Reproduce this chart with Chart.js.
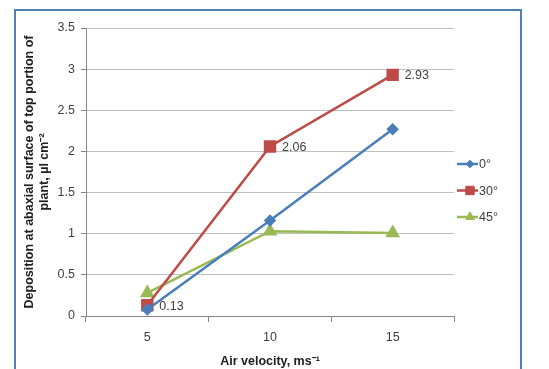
<!DOCTYPE html>
<html>
<head>
<meta charset="utf-8">
<script src="https://cdn.jsdelivr.net/npm/chart.js@4"></script>
<style>
  html, body { margin: 0; padding: 0; background: #fff; overflow: hidden; }
  #frame { position: absolute; left: 14px; top: 9px; width: 504px; height: 400px; border: 2px solid #4f81bd; }
  #wrap { position: absolute; left: 0; top: 0; width: 549px; height: 373px; }
</style>
</head>
<body>
<div id="frame"></div>
<div id="wrap"><canvas id="myChart"></canvas></div>
<script>
// categories and series values
var velocities = ["5", "10", "15"];
var angle0 = [0.08, 1.16, 2.27];
var angle30 = [0.13, 2.06, 2.93];
var angle45 = [0.28, 1.03, 1.01];
var seriesNames = ["0°", "30°", "45°"];
var labelled30 = ["0.13", "2.06", "2.93"];

var font = "'Liberation Sans', Arial, sans-serif";

// value labels next to the 30° points
var valueLabels = {
  id: 'valueLabels',
  afterDatasetsDraw: function(chart) {
    var ctx = chart.ctx;
    var meta = chart.getDatasetMeta(1);
    ctx.save();
    ctx.font = "12.5px " + font;
    ctx.fillStyle = "#404040";
    ctx.textBaseline = "middle";
    meta.data.forEach(function(pt, i) {
      ctx.fillText(labelled30[i], pt.x + 12, pt.y + 1);
    });
    ctx.restore();
  }
};

// legend drawn as line-marker-line like the original
var sideLegend = {
  id: 'sideLegend',
  afterDraw: function(chart) {
    var ctx = chart.ctx;
    var x0 = 457, y0 = 164, gap = 26.5;
    ctx.save();
    chart.data.datasets.forEach(function(ds, i) {
      var y = y0 + i * gap;
      ctx.strokeStyle = ds.borderColor;
      ctx.lineWidth = 2.5;
      ctx.beginPath();
      ctx.moveTo(x0, y);
      ctx.lineTo(x0 + 21, y);
      ctx.stroke();
      ctx.fillStyle = ds.borderColor;
      ctx.lineWidth = 1;
      Chart.helpers.drawPoint(ctx, {
        pointStyle: ds.pointStyle,
        radius: ds.pointRadius * 0.85,
        borderWidth: 1
      }, x0 + 13, y);
      ctx.fillStyle = "#404040";
      ctx.font = "12.5px " + font;
      ctx.textBaseline = "middle";
      ctx.fillText(seriesNames[i], x0 + 22, y + 1);
    });
    ctx.restore();
  }
};

function makeSet(name, data, color, style, r) {
  return {
    label: name,
    data: data,
    borderColor: color,
    backgroundColor: color,
    pointBackgroundColor: color,
    pointBorderColor: color,
    pointStyle: style,
    pointRadius: r,
    pointHoverRadius: r,
    borderWidth: 2.5,
    tension: 0
  };
}

var ctx = document.getElementById('myChart').getContext('2d');
var chart = new Chart(ctx, {
  type: 'line',
  data: {
    labels: velocities,
    datasets: [
      makeSet(seriesNames[0], angle0, "#4a7ebb", "rectRot", 4.5),
      makeSet(seriesNames[1], angle30, "#be4b48", "rect", 7),
      makeSet(seriesNames[2], angle45, "#98b954", "triangle", 6)
    ]
  },
  plugins: [valueLabels, sideLegend],
  options: {
    responsive: true,
    maintainAspectRatio: false,
    animation: false,
    layout: { padding: { left: 22, right: 95, top: 28, bottom: 0 } },
    plugins: {
      legend: { display: false },
      tooltip: { enabled: false }
    },
    scales: {
      x: {
        offset: true,
        grid: { offset: true, drawOnChartArea: false, color: "#868686", tickLength: 6 },
        border: { color: "#868686" },
        ticks: { color: "#404040", font: { family: font, size: 12.5 }, padding: 8 },
        title: {
          display: true,
          text: "Air velocity, ms⁻¹",
          color: "#202020",
          font: { family: font, size: 12.5, weight: "bold" },
          padding: { top: 7 }
        },
        afterFit: function(scale) { scale.height = 57; }
      },
      y: {
        min: 0,
        max: 3.5,
        ticks: {
          stepSize: 0.5,
          color: "#404040",
          font: { family: font, size: 12.5 },
          padding: 6,
          callback: function(v) { return String(v); }
        },
        grid: { color: "#c0c0c0", tickColor: "#868686", tickLength: 5 },
        border: { color: "#868686" },
        title: {
          display: true,
          text: ["Deposition at abaxial surface of top portion of", "plant, µl cm⁻²"],
          color: "#202020",
          font: { family: font, size: 12.5, weight: "bold" },
          padding: 0
        },
        afterFit: function(scale) { scale.width = 64; }
      }
    }
  }
});
</script>
</body>
</html>
